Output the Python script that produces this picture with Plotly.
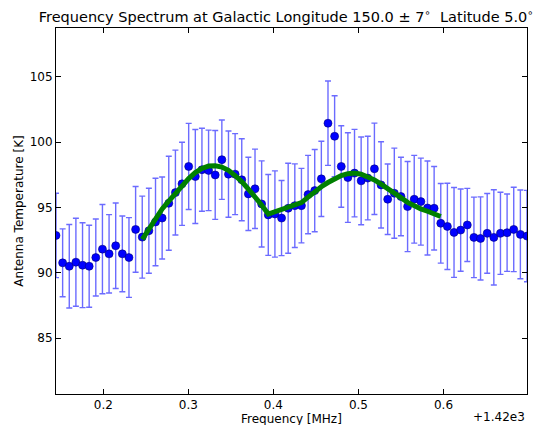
import plotly.graph_objects as go

# frequency channels [MHz]
freq = [
    1420.1444, 1420.1522, 1420.1600, 1420.1678, 1420.1756, 1420.1834, 1420.1912, 1420.1990,
    1420.2068, 1420.2146, 1420.2224, 1420.2302, 1420.2380, 1420.2458, 1420.2536, 1420.2614,
    1420.2692, 1420.2770, 1420.2848, 1420.2926, 1420.3004, 1420.3082, 1420.3160, 1420.3238,
    1420.3316, 1420.3394, 1420.3472, 1420.3550, 1420.3628, 1420.3706, 1420.3784, 1420.3862,
    1420.3940, 1420.4018, 1420.4096, 1420.4174, 1420.4252, 1420.4330, 1420.4408, 1420.4486,
    1420.4564, 1420.4642, 1420.4720, 1420.4798, 1420.4876, 1420.4954, 1420.5032, 1420.5110,
    1420.5188, 1420.5266, 1420.5344, 1420.5422, 1420.5500, 1420.5578, 1420.5656, 1420.5734,
    1420.5812, 1420.5890, 1420.5968, 1420.6046, 1420.6124, 1420.6202, 1420.6280, 1420.6358,
    1420.6436, 1420.6514, 1420.6592, 1420.6670, 1420.6748, 1420.6826, 1420.6904, 1420.6982,
]

# antenna temperature [K]
temp = [
    92.87, 90.77, 90.51, 90.82, 90.59, 90.51, 91.18, 91.82, 91.46, 92.08, 91.46, 91.18,
    93.33, 92.74, 93.23, 93.90, 94.20, 95.33, 96.15, 96.82, 98.15, 97.38, 97.90, 97.85,
    97.50, 98.67, 97.56, 97.56, 97.13, 96.05, 96.44, 95.28, 94.44, 94.51, 94.20, 94.95,
    95.15, 95.15, 96.00, 96.30, 97.20, 101.46, 100.46, 98.15, 97.30, 97.64, 97.05, 97.26,
    97.97, 96.74, 95.64, 96.10, 95.85, 95.08, 95.64, 95.46, 94.97, 94.95, 93.80, 93.56,
    93.10, 93.28, 93.67, 92.72, 92.64, 93.03, 92.72, 93.03, 93.08, 93.33, 92.95, 92.82,
]

# 1-sigma errors [K]
temp_err = [
    3.23, 2.60, 3.20, 3.37, 3.25, 3.14, 2.95, 3.42, 3.00, 3.27, 2.90, 3.05,
    3.28, 3.14, 3.25, 3.35, 3.14, 3.60, 3.25, 3.18, 3.30, 3.60, 3.18, 3.08,
    3.40, 3.04, 3.30, 3.10, 3.14, 2.80, 3.04, 3.30, 3.10, 3.30, 2.88, 3.45,
    3.20, 2.85, 3.00, 3.15, 2.88, 3.23, 3.10, 3.12, 3.43, 3.35, 3.36, 3.20,
    3.50, 3.30, 2.70, 3.45, 3.00, 3.45, 3.36, 3.33, 3.60, 3.20, 3.05, 3.30,
    3.44, 3.15, 2.80, 3.08, 3.18, 3.05, 3.65, 3.14, 2.96, 3.23, 3.40, 3.50,
]

# fitted model, channels 13..58
fit_start, fit_end = 13, 59
fit_temp = [
    92.56, 93.40, 94.20, 94.90, 95.50, 96.10, 96.67, 97.22, 97.68, 98.00, 98.18, 98.20,
    98.10, 97.85, 97.45, 97.00, 96.42, 95.85, 95.20, 94.50, 94.66, 94.82, 95.00, 95.18,
    95.38, 95.80, 96.22, 96.60, 96.92, 97.24, 97.46, 97.60, 97.64, 97.56, 97.38, 97.12,
    96.80, 96.42, 96.08, 95.76, 95.40, 95.10, 94.90, 94.72, 94.52, 94.32,
]

tick_vals = [1420.2, 1420.3, 1420.4, 1420.5, 1420.6]
tick_text = ["0.2", "0.3", "0.4", "0.5", "0.6"]

font = dict(family="DejaVu Sans", size=12, color="black")

fig = go.Figure()

fig.add_trace(go.Scatter(
    x=freq, y=temp, mode="markers",
    marker=dict(size=8, color="#0000ff", line=dict(width=0.6, color="#00007a")),
    error_y=dict(type="data", array=temp_err, visible=True,
                 color="rgba(0,0,255,0.58)", thickness=1.4, width=3),
    showlegend=False,
))

fig.add_trace(go.Scatter(
    x=freq[fit_start:fit_end], y=fit_temp, mode="lines",
    line=dict(color="#008000", width=5),
    showlegend=False,
))

axis_style = dict(
    showgrid=False, zeroline=False, automargin=False,
    showline=True, linecolor="black", linewidth=1, mirror="ticks",
    ticks="inside", ticklen=5, tickcolor="black",
    tickfont=font,
)

fig.update_xaxes(
    range=[freq[0], freq[-1]],
    tickvals=tick_vals, ticktext=tick_text,
    **axis_style,
)
fig.update_yaxes(
    range=[80.73, 108.75],
    tickvals=[85, 90, 95, 100, 105],
    title=dict(text="Antenna Temperature [K]", font=font, standoff=3),
    **axis_style,
)

# x axis title and offset text, placed by hand like matplotlib does
fig.add_annotation(
    text="Frequency [MHz]", xref="paper", yref="paper", x=0.5, y=-0.068,
    xanchor="center", yanchor="middle", showarrow=False, font=font,
)
fig.add_annotation(
    text="+1.42e3", xref="paper", yref="paper", x=1.0, y=-0.062,
    xanchor="right", yanchor="middle", showarrow=False, font=font,
)

# the page body adds an 8px offset, so the figure is 8px smaller
fig.update_layout(
    width=533, height=417,
    margin=dict(l=48, r=14, t=20, b=31),
    paper_bgcolor="white", plot_bgcolor="white",
    title=dict(
        text="Frequency Spectrum at Galactic Longitude 150.0 ± 7<sup>∘</sup>  Latitude 5.0<sup>∘</sup>",
        x=0.522, xanchor="center", y=0.979, yanchor="middle",
        font=dict(family="DejaVu Sans", size=14.5, color="black"),
    ),
)

fig.write_html("out.html")
